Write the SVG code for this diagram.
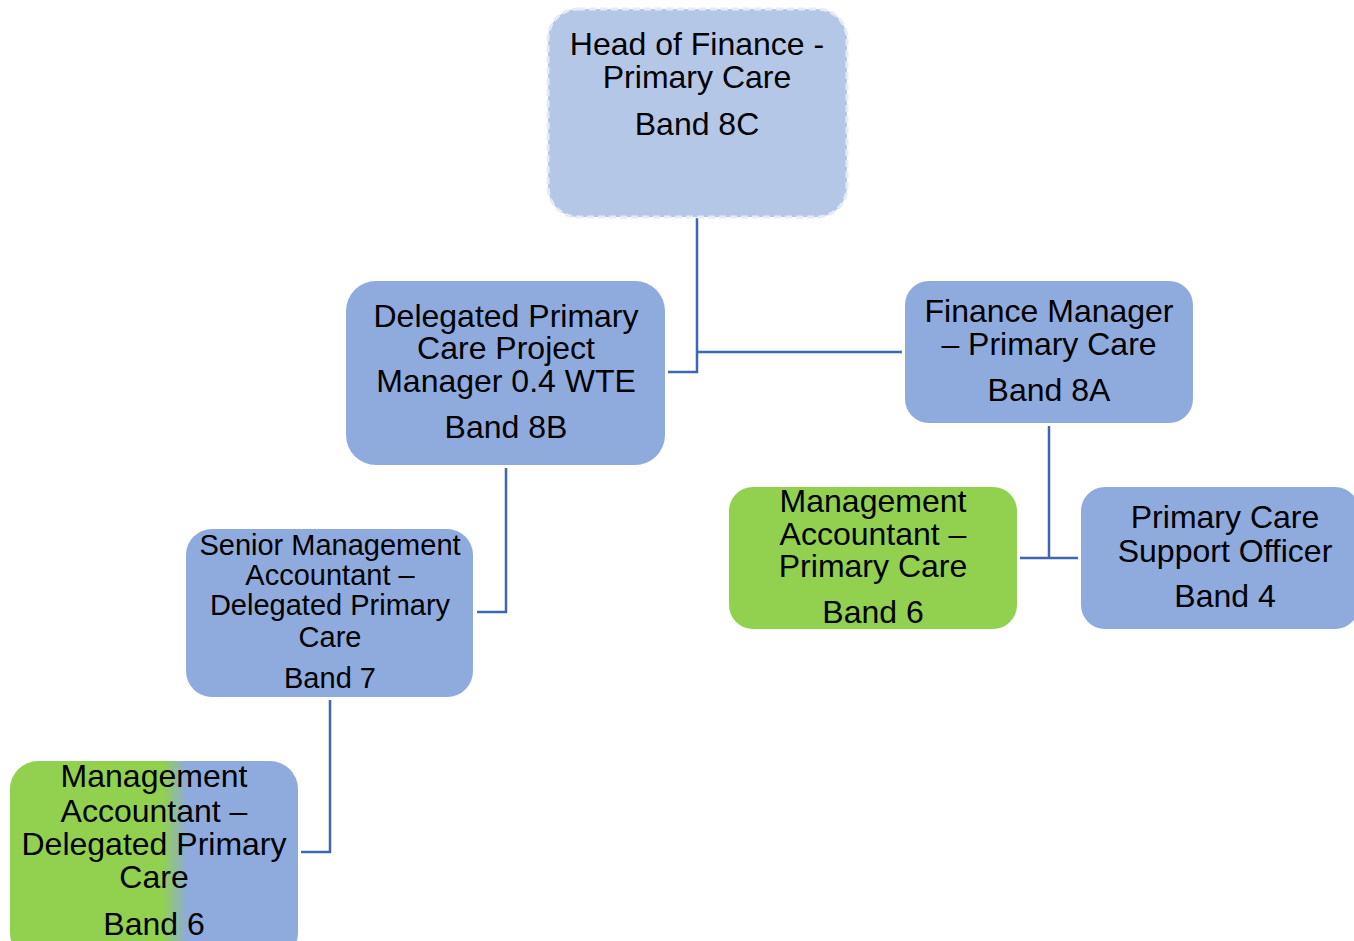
<svg xmlns="http://www.w3.org/2000/svg" width="1354" height="941" viewBox="0 0 1354 941">
<style>
.blue{fill:#8FAADC}
.head{fill:#B4C7E7;stroke:#E4EBF7;stroke-width:3;stroke-dasharray:7 4}
.green{fill:#92D050}
.mix{fill:url(#gmix)}
text{font-family:"Liberation Sans",Arial,sans-serif;font-size:32px;fill:#000;text-anchor:middle}
.sm{font-size:29px}
.conn{fill:none;stroke:#3F66B0;stroke-width:2.5}
</style>
<defs>
<linearGradient id="gmix" x1="0" y1="0" x2="1" y2="0">
<stop offset="0.53" stop-color="#92D050"/>
<stop offset="0.615" stop-color="#8FAADC"/>
</linearGradient>
</defs>
<rect width="1354" height="941" fill="#fff"/>
<g id="connectors">
<path class="conn" d="M697 218 V372 H668"/>
<path class="conn" d="M697 352 H902"/>
<path class="conn" d="M506 468 V612 H477"/>
<path class="conn" d="M330 700 V852 H301"/>
<path class="conn" d="M1049 426 V558"/>
<path class="conn" d="M1020 558 H1078"/>
</g>
<g id="head">
<rect class="head" x="548" y="9" width="299" height="208" rx="30"/>
<text x="697" y="55">Head of Finance -</text>
<text x="697" y="88">Primary Care</text>
<text x="697" y="135">Band 8C</text>
</g>
<g id="dpcpm">
<rect class="blue" x="346" y="281" width="319" height="184" rx="30"/>
<text x="506" y="327">Delegated Primary</text>
<text x="506" y="359">Care Project</text>
<text x="506" y="392">Manager 0.4 WTE</text>
<text x="506" y="438">Band 8B</text>
</g>
<g id="fm">
<rect class="blue" x="905" y="281" width="288" height="142" rx="24"/>
<text x="1049" y="322">Finance Manager</text>
<text x="1049" y="355">– Primary Care</text>
<text x="1049" y="401">Band 8A</text>
</g>
<g id="sma">
<rect class="blue" x="186" y="529" width="287" height="168" rx="26"/>
<text class="sm" x="330" y="555">Senior Management</text>
<text class="sm" x="330" y="585">Accountant –</text>
<text class="sm" x="330" y="615">Delegated Primary</text>
<text class="sm" x="330" y="647">Care</text>
<text class="sm" x="330" y="688">Band 7</text>
</g>
<g id="mapc">
<rect class="green" x="729" y="487" width="288" height="142" rx="24"/>
<text x="873" y="512">Management</text>
<text x="873" y="545">Accountant –</text>
<text x="873" y="577">Primary Care</text>
<text x="873" y="623">Band 6</text>
</g>
<g id="pcso">
<rect class="blue" x="1081" y="487" width="278" height="142" rx="24"/>
<text x="1225" y="528">Primary Care</text>
<text x="1225" y="562">Support Officer</text>
<text x="1225" y="607">Band 4</text>
</g>
<g id="madpc">
<rect class="mix" x="10" y="761" width="288" height="200" rx="28"/>
<text x="154" y="787">Management</text>
<text x="154" y="822">Accountant –</text>
<text x="154" y="855">Delegated Primary</text>
<text x="154" y="888">Care</text>
<text x="154" y="935">Band 6</text>
</g>
</svg>
